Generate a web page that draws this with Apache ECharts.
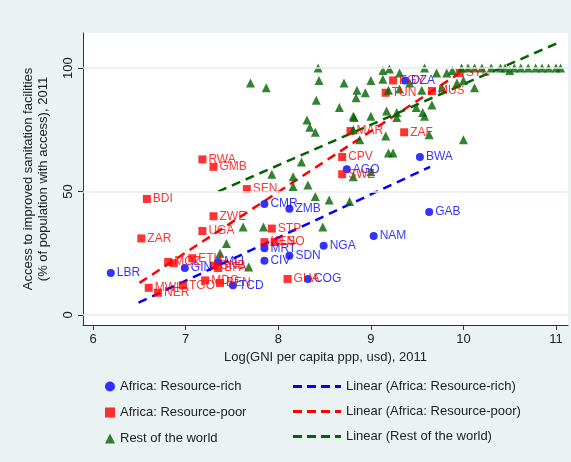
<!DOCTYPE html>
<html>
<head>
<meta charset="utf-8">
<script src="https://cdn.jsdelivr.net/npm/echarts@6/dist/echarts.min.js"></script>
<style>
  html, body { margin: 0; padding: 0; background: #eaf2f3; }
  #chart { width: 571px; height: 462px; }
</style>
</head>
<body>
<div id="chart"></div>
<script>
// Africa, resource-rich: [log GNI, sanitation %, code]
var richPoints = [
  [6.19, 17, "LBR"], [6.99, 19, "GIN"], [7.35, 21.5, "MLI"], [7.51, 12, "TCD"],
  [7.85, 45, "CMR"], [8.12, 43, "ZMB"], [7.85, 27, "MRT"], [7.85, 22, "CIV"],
  [8.12, 24, "SDN"], [8.49, 28, "NGA"], [8.32, 14.6, "COG"], [9.03, 32, "NAM"],
  [9.63, 41.7, "GAB"], [9.53, 64, "BWA"], [8.74, 59, "AGO"], [9.37, 95, "DZA"]
];
// Africa, resource-poor
var poorPoints = [
  [6.58, 47, "BDI"], [6.52, 31, "ZAR"], [7.18, 63, "RWA"], [7.3, 60, "GMB"],
  [7.66, 51, "SEN"], [7.3, 40, "ZWE"], [7.18, 34, "UGA"], [7.93, 35, "STP"],
  [7.85, 29.5, "KEN"], [7.96, 29.5, "LSO"], [7.07, 23, "ETH"], [6.81, 21.5, "MOZ"],
  [6.87, 21, ""], [6.6, 11, "MWI"], [6.7, 9, "NER"], [6.97, 12, "TGO"],
  [7.21, 14, "MDG"], [7.37, 13, "BEN"], [7.3, 20, "GNB"], [7.35, 19, "BFA"],
  [8.1, 14.6, "GHA"], [8.69, 64, "CPV"], [8.69, 57, "SWZ"], [8.78, 74.5, "MAR"],
  [9.36, 74, "ZAF"], [9.24, 95, "EGY"], [9.16, 90, "TUN"], [9.66, 90.7, "MUS"],
  [9.96, 98, "SYC"]
];
// rest of the world
var restPoints = [
  [7.7, 94], [7.87, 92], [7.93, 57], [8.16, 56], [8.16, 52], [8.32, 52.6],
  [8.4, 48], [8.55, 46.6], [8.77, 46], [8.25, 62], [7.62, 35.6], [7.84, 35.6],
  [7.44, 29], [7.37, 25], [7.68, 19.4], [8.48, 35.6],
  [8.43, 100], [8.44, 95], [8.41, 87], [8.31, 79], [8.34, 76], [8.4, 74],
  [8.71, 94], [8.85, 91], [8.94, 90], [8.84, 88], [8.66, 84], [9.0, 95],
  [9.13, 99], [9.2, 99.6], [9.31, 98], [9.13, 95.5], [9.19, 91], [9.31, 91.5],
  [9.42, 94], [9.55, 91], [9.58, 100], [8.81, 80.5], [8.82, 80], [9.0, 80.5],
  [9.17, 82.6], [9.28, 82], [9.28, 80], [9.49, 84], [9.56, 82], [9.58, 80.5],
  [9.66, 85], [8.88, 71], [9.16, 72.5], [8.81, 75], [9.63, 73], [10.0, 71],
  [9.19, 65.6], [9.24, 65.6], [9.0, 58], [8.81, 56],
  [9.71, 98], [9.77, 92], [9.82, 98], [9.88, 99], [9.93, 94], [9.98, 100],
  [10.0, 95], [10.12, 92], [10.5, 99],
  [10.05, 100], [10.12, 100], [10.2, 100], [10.3, 100], [10.4, 100], [10.45, 100],
  [10.55, 100], [10.62, 100], [10.7, 100], [10.78, 100], [10.85, 100],
  [10.92, 100], [11.0, 100], [11.05, 100]
];
// fitted lines (end points)
var richFit = [[6.49, 5], [9.64, 60]];
var poorFit = [[6.5, 13], [9.96, 98]];
var restFit = [[7.35, 50], [11.04, 110.5]];

var xTicks = [6, 7, 8, 9, 10, 11];
var yTicks = [0, 50, 100];

var font = "Liberation Sans, Arial, sans-serif";
var blue = "#0000ff", red = "#ff0000", green = "#006400";
var dashIcon = "path://M0,0h9v3h-9z M14,0h9v3h-9z M28,0h9v3h-9z M42,0h6v3h-6z";

function pointSeries(name, data, symbol, color, size, labels) {
  return {
    name: name, type: "scatter", data: data, symbol: symbol, symbolSize: size,
    itemStyle: { color: color },
    label: {
      show: labels, position: "right", distance: 2, color: color,
      fontFamily: font, fontSize: 12,
      formatter: function (p) { return p.data[2] || ""; }
    },
    z: 3
  };
}
function fitSeries(name, data, color) {
  return {
    name: name, type: "line", data: data, symbol: "none",
    lineStyle: { color: color, width: 2.5, type: [9, 6] },
    itemStyle: { color: color }, z: 2
  };
}

var chart = echarts.init(document.getElementById("chart"));
chart.setOption({
  backgroundColor: "#eaf2f3",
  animation: false,
  textStyle: { fontFamily: font },
  grid: { left: 83, right: 3, top: 33, bottom: 137, show: true, backgroundColor: "#fff", borderWidth: 0 },
  xAxis: {
    type: "value", min: 5.89, max: 11.13,
    name: "Log(GNI per capita ppp, usd), 2011", nameLocation: "middle", nameGap: 26,
    nameTextStyle: { color: "#222", fontSize: 13 },
    axisLine: { onZero: false, lineStyle: { color: "#333" } },
    axisTick: { customValues: xTicks, length: 5, lineStyle: { color: "#333" } },
    axisLabel: { customValues: xTicks, color: "#222", fontSize: 13, margin: 8 },
    splitLine: { show: false }
  },
  yAxis: {
    type: "value", min: -4.05, max: 114.2,
    name: "Access to improved sanitation facilities\n(% of population with access), 2011",
    nameLocation: "middle", nameGap: 32, nameRotate: 90,
    nameTextStyle: { color: "#222", fontSize: 13, lineHeight: 15 },
    axisLine: { onZero: false, lineStyle: { color: "#333" } },
    axisTick: { customValues: yTicks, length: 5, lineStyle: { color: "#333" } },
    axisLabel: { customValues: yTicks, color: "#222", fontSize: 13, rotate: 90, margin: 8 },
    splitLine: { show: false }
  },
  legend: [
    {
      data: [
        { name: "Africa: Resource-rich", icon: "circle" },
        { name: "Africa: Resource-poor", icon: "rect" },
        { name: "Rest of the world", icon: "triangle" }
      ],
      orient: "vertical", left: 100, top: 375, height: 80, itemGap: 13, itemWidth: 10, itemHeight: 10,
      textStyle: { color: "#222", fontSize: 13 }
    },
    {
      data: [
        { name: "Linear (Africa: Resource-rich)", icon: dashIcon },
        { name: "Linear (Africa: Resource-poor)", icon: dashIcon },
        { name: "Linear (Rest of the world)", icon: dashIcon }
      ],
      orient: "vertical", left: 288, top: 375, height: 80, itemGap: 12, itemWidth: 48, itemHeight: 3,
      textStyle: { color: "#222", fontSize: 13 }
    }
  ],
  series: [
    pointSeries("Africa: Resource-rich", richPoints, "circle", blue, 8, true),
    pointSeries("Africa: Resource-poor", poorPoints, "rect", red, 8, true),
    Object.assign(pointSeries("Rest of the world", restPoints, "triangle", green, 9, false), {
      markLine: {
        silent: true, symbol: "none", label: { show: false },
        lineStyle: { color: "#e6eef0", width: 1.5, type: "solid" },
        data: yTicks.map(function (v) { return { yAxis: v }; })
      }
    }),
    fitSeries("Linear (Africa: Resource-rich)", richFit, blue),
    fitSeries("Linear (Africa: Resource-poor)", poorFit, red),
    fitSeries("Linear (Rest of the world)", restFit, green)
  ]
});
</script>
</body>
</html>
